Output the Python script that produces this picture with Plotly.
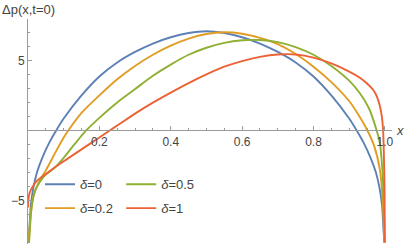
import plotly.graph_objects as go

# ---- data ----
x_d0 = [0.0015, 0.004, 0.008, 0.015, 0.025, 0.04, 0.06, 0.079, 0.10, 0.15, 0.20, 0.25, 0.30, 0.35, 0.40, 0.45, 0.50,
        0.55, 0.60, 0.65, 0.70, 0.75, 0.80, 0.85, 0.90, 0.921, 0.94, 0.96, 0.975, 0.985, 0.992, 0.996, 0.9985]
y_d0 = [-8.0, -7.0, -5.3, -4.1, -3.0, -1.95, -0.85, 0.0, 0.85, 2.5, 3.85, 4.85, 5.6, 6.2, 6.65, 6.95, 7.08,
        6.95, 6.65, 6.2, 5.6, 4.85, 3.85, 2.5, 0.85, 0.0, -0.85, -1.95, -3.0, -4.1, -5.3, -7.0, -8.0]

x_d02 = [0.0015, 0.006, 0.015, 0.03, 0.05, 0.075, 0.10, 0.113, 0.15, 0.20, 0.25, 0.30, 0.35, 0.40, 0.45, 0.50,
         0.55, 0.60, 0.65, 0.70, 0.75, 0.80, 0.85, 0.90, 0.925, 0.951, 0.97, 0.986, 0.994, 0.9985]
y_d02 = [-8.0, -6.4, -4.7, -3.7, -2.85, -1.65, -0.5, 0.0, 1.25, 2.5, 3.65, 4.6, 5.4, 6.05, 6.55, 6.88,
         7.0, 6.9, 6.6, 6.15, 5.45, 4.55, 3.45, 2.1, 1.15, 0.0, -1.1, -2.8, -5.0, -8.0]

x_d05 = [0.003, 0.006, 0.010, 0.02, 0.035, 0.05, 0.075, 0.10, 0.13, 0.163, 0.20, 0.25, 0.30, 0.35, 0.40, 0.45, 0.50,
         0.55, 0.60, 0.65, 0.70, 0.75, 0.80, 0.85, 0.90, 0.93, 0.955, 0.977, 0.986, 0.993, 0.997, 0.999]
y_d05 = [-8.0, -6.8, -5.5, -4.3, -3.6, -3.15, -2.65, -1.95, -1.0, 0.0, 0.9, 2.0, 2.95, 3.9, 4.7, 5.4, 5.9,
         6.25, 6.43, 6.45, 6.3, 5.95, 5.4, 4.6, 3.55, 2.65, 1.6, 0.0, -0.9, -2.8, -5.2, -8.0]

x_d1 = [0.0, 0.001, 0.003, 0.007, 0.012, 0.025, 0.05, 0.10, 0.15, 0.20, 0.229, 0.25, 0.30, 0.35, 0.40, 0.45, 0.50,
        0.55, 0.60, 0.65, 0.70, 0.75, 0.80, 0.85, 0.90, 0.93, 0.95, 0.967, 0.978, 0.986, 0.992, 0.995,
        0.997, 0.999, 1.0]
y_d1 = [-5.5, -4.95, -4.6, -4.3, -4.05, -3.6, -3.1, -2.2, -1.35, -0.5, 0.0, 0.35, 1.2, 1.98, 2.7, 3.38, 4.0,
        4.55, 4.95, 5.25, 5.42, 5.42, 5.2, 4.78, 4.2, 3.76, 3.35, 2.9, 2.4, 1.74, 0.9, 0.07,
        -1.5, -4.0, -8.0]

series_names = ["<i>δ</i>=0", "<i>δ</i>=0.2", "<i>δ</i>=0.5", "<i>δ</i>=1"]
series_x = [x_d0, x_d02, x_d05, x_d1]
series_y = [y_d0, y_d02, y_d05, y_d1]
colors = ["#5E81B5", "#E19C24", "#8FB032", "#EB6235"]
legend_ids = ["legend", "legend", "legend2", "legend2"]

x_tickvals = [0.2, 0.4, 0.6, 0.8, 1.0]
x_ticktext = ["0.2", "0.4", "0.6", "0.8", "1.0"]
y_tickvals = [-5, 5]
y_ticktext = ["−5", "5"]

Y_MIN, Y_MAX = -8.1, 7.95
X_MIN, X_MAX = 0.0, 1.02

FONT = "Liberation Sans, Arial, sans-serif"
TXT = "#444444"
AX = "#9a9a9a"

fig = go.Figure()
for i, (xs, ys, nm, c, lg) in enumerate(zip(series_x, series_y, series_names, colors, legend_ids)):
    fig.add_trace(go.Scatter(x=xs, y=ys, mode="lines", name=nm, legend=lg, legendgroup=f"g{i}",
                             line=dict(color=c, width=1.9, shape="spline", smoothing=0.7),
                             cliponaxis=True))

zero_pos = (0 - Y_MIN) / (Y_MAX - Y_MIN)

fig.update_layout(
    width=406, height=245,
    margin=dict(l=28, r=14, t=19, b=1),
    plot_bgcolor="white", paper_bgcolor="white",
    font=dict(family=FONT, size=12, color=TXT),
    showlegend=True,
    xaxis=dict(range=[X_MIN, X_MAX], anchor="free", position=zero_pos,
               showgrid=False, zeroline=False, showline=True, linecolor=AX, linewidth=1,
               ticks="inside", ticklen=4, tickcolor=AX, tickwidth=1,
               tickvals=x_tickvals, ticktext=x_ticktext,
               minor=dict(dtick=0.05, tick0=0, ticks="inside", ticklen=2, tickcolor=AX),
               tickfont=dict(size=12, color=TXT)),
    yaxis=dict(range=[Y_MIN, Y_MAX], showgrid=False, zeroline=False, showline=True,
               linecolor=AX, linewidth=1, ticks="inside", ticklen=4, tickcolor=AX,
               tickvals=y_tickvals, ticktext=y_ticktext,
               minor=dict(dtick=1, tick0=0, ticks="inside", ticklen=2, tickcolor=AX),
               tickfont=dict(size=12, color=TXT)),
    legend=dict(x=0.033, y=0.332, xanchor="left", yanchor="top", orientation="v",
                bgcolor="rgba(0,0,0,0)", font=dict(size=13, color=TXT), tracegroupgap=4),
    legend2=dict(x=0.256, y=0.332, xanchor="left", yanchor="top", orientation="v",
                 bgcolor="rgba(0,0,0,0)", font=dict(size=13, color=TXT), tracegroupgap=4),
)

fig.add_annotation(text="Δp(x,t=0)", xref="paper", yref="paper", x=-28/363.6, y=1.0,
                   xanchor="left", yanchor="bottom", showarrow=False, yshift=0,
                   font=dict(size=13, color=TXT, family=FONT))
fig.add_annotation(text="<i>x</i>", xref="paper", yref="paper", x=1.0, y=zero_pos,
                   xanchor="left", yanchor="middle", showarrow=False, xshift=2,
                   font=dict(size=13, color=TXT, family=FONT))

fig.write_html("out.html", config={"displayModeBar": False},
               post_script="document.body.style.margin='0';document.body.style.padding='0';")
